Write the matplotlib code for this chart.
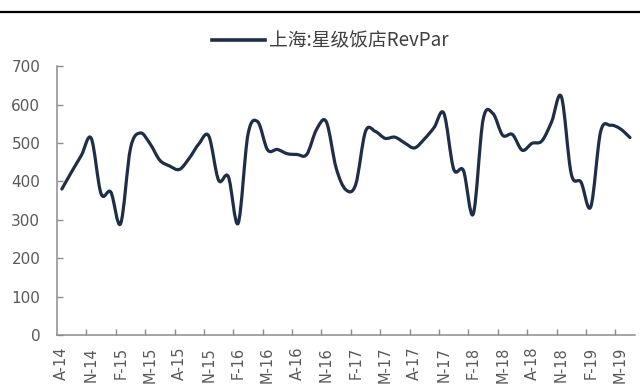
import numpy as np
import matplotlib.pyplot as plt
from matplotlib.path import Path
from matplotlib.patches import PathPatch
from matplotlib.lines import Line2D

plt.rcParams['font.family'] = ['DejaVu Sans']

# monthly RevPar, Aug 2014 .. Jun 2019
revpar = [380, 425, 468, 512, 368, 372, 290, 485, 526, 498,   # Aug14-May15
          455, 440, 431, 460, 498, 518, 403, 412, 291, 522,   # Jun15-Mar16
          555, 482, 483, 472, 470, 470, 535, 555, 435, 378,   # Apr16-Jan17
          392, 530, 530, 512, 515, 500, 487, 510, 540, 577,   # Feb17-Nov17
          432, 428, 315, 560, 577, 520, 522, 481, 499, 505,   # Dec17-Sep18
          555, 620, 420, 398, 334, 529, 546, 537, 514]        # Oct18-Jun19
tick_labels = ['A-14', 'N-14', 'F-15', 'M-15', 'A-15', 'N-15', 'F-16', 'M-16',
               'A-16', 'N-16', 'F-17', 'M-17', 'A-17', 'N-17', 'F-18', 'M-18',
               'A-18', 'N-18', 'F-19', 'M-19']
series_name = '上海:星级饭店RevPar'

line_color = '#1f2e48'
axis_color = '#8c8c8c'
text_color = '#595959'


def smooth_path(x, y):
    # catmull-rom spline written as cubic bezier segments
    px = np.concatenate(([x[0]], x, [x[-1]]))
    py = np.concatenate(([y[0]], y, [y[-1]]))
    verts = [(x[0], y[0])]
    codes = [Path.MOVETO]
    for i in range(len(x) - 1):
        c1 = (x[i] + (px[i + 2] - px[i]) / 6, y[i] + (py[i + 2] - py[i]) / 6)
        c2 = (x[i + 1] - (px[i + 3] - px[i + 1]) / 6, y[i + 1] - (py[i + 3] - py[i + 1]) / 6)
        verts += [c1, c2, (x[i + 1], y[i + 1])]
        codes += [Path.CURVE4] * 3
    return Path(verts, codes)


x = np.arange(len(revpar), dtype=float)
y = np.array(revpar, dtype=float)

fig = plt.figure(figsize=(6.4, 3.88), dpi=100)
ax = fig.add_axes([0.089, 0.1366, 0.903, 0.693])

ax.add_patch(PathPatch(smooth_path(x, y), fill=False, edgecolor=line_color,
                       lw=2.3, capstyle='round', joinstyle='round'))

ax.set_xlim(-0.5, len(revpar) - 0.5)
ax.set_ylim(0, 700)
ax.set_yticks(np.arange(0, 701, 100))

ax.set_xticks(np.arange(0, len(revpar), 3))
ax.set_xticklabels(tick_labels, rotation=90)
ax.set_xticks(np.arange(2.5, len(revpar) - 1, 3), minor=True)

for side in ['top', 'right']:
    ax.spines[side].set_visible(False)
for side in ['left', 'bottom']:
    ax.spines[side].set_color(axis_color)
    ax.spines[side].set_linewidth(1.1)

ax.tick_params(axis='x', which='major', length=0, pad=8.5,
               labelsize=10.5, labelcolor=text_color)
ax.tick_params(axis='x', which='minor', direction='in', length=4,
               width=1, color=axis_color)
ax.tick_params(axis='y', direction='in', length=4, width=1, color=axis_color,
               pad=12, labelsize=11, labelcolor=text_color)

# header rule across the top
fig.add_artist(Line2D([0, 1], [0.970, 0.970], transform=fig.transFigure,
                      color='black', lw=1.6))

handle = Line2D([], [], color=line_color, lw=2.6)
ax.legend([handle], [series_name], loc='center', bbox_to_anchor=(0.516, 0.894),
          bbox_transform=fig.transFigure, frameon=False, handlelength=2.8,
          handletextpad=0.2, labelcolor='#404040',
          prop={'family': ['Noto Sans CJK SC', 'DejaVu Sans'], 'size': 13.5})

fig.savefig('out.png', dpi=100)
